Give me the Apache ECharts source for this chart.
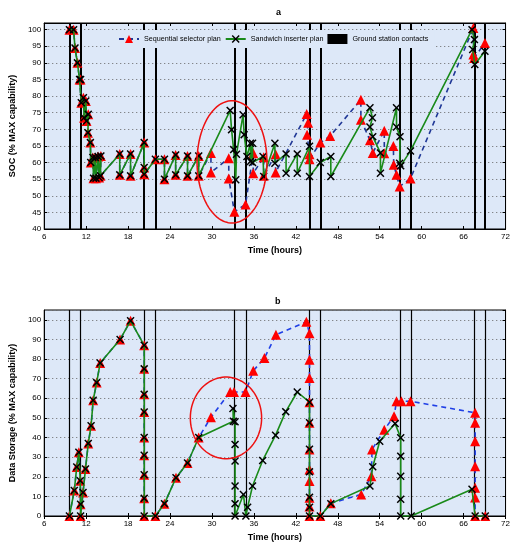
<!DOCTYPE html>
<html>
<head>
<meta charset="utf-8">
<script src="https://cdn.jsdelivr.net/npm/echarts@6/dist/echarts.min.js"></script>
<style>
  html, body { margin: 0; padding: 0; background: #fff; }
  #main { width: 513px; height: 543px; }
</style>
</head>
<body>
<div id="main"></div>
<script>
// ground station contact times (hours)
const contactTimes = [9.6, 11.2, 20.3, 21.9, 33.25, 34.85, 43.95, 45.5, 56.9, 58.45, 67.55, 69.05];

// panel a: SOC, points where both plans agree
const socShared = [
  [9.6, 100], [10.2, 100], [10.4, 94.5], [10.75, 90], [11.05, 85], [11.2, 85], [11.3, 78],
  [11.6, 79.5], [11.7, 73.5], [11.95, 78.5], [12.05, 72.5], [12.3, 74.5], [12.25, 69],
  [12.6, 66], [12.65, 60], [12.95, 61.5], [13.05, 55.3], [13.3, 61.5], [13.4, 55.3],
  [13.7, 61.8], [13.85, 55.5], [14.1, 62], [14.05, 56], [16.8, 62.6], [16.8, 56.3],
  [18.35, 62.6], [18.35, 56], [20.3, 66], [20.3, 58.5], [20.3, 56.5], [21.9, 61],
  [23.2, 61], [23.2, 55], [24.8, 62.3], [24.8, 56.3], [26.5, 62], [26.5, 56], [28.1, 62], [28.1, 56]
];
const socSequential = [
  [29.85, 62.9], [29.85, 57], [32.4, 61.3], [32.4, 55.2], [33.2, 45.2], [34.8, 47.4],
  [35.9, 62.8], [35.9, 56.8], [37.4, 61.6], [37.4, 56], [39.1, 62.5], [39.1, 57],
  [43.55, 74.6], [43.75, 72], [43.6, 68.4], [43.95, 62.5], [43.95, 61], [45.5, 66], [46.9, 68],
  [51.3, 78.9], [51.3, 72.9], [52.6, 66.7], [53.0, 62.9], [54.65, 69.6], [54.65, 62.8],
  [55.95, 65], [56.0, 59.3], [56.4, 56.3], [56.85, 52.8], [58.4, 55.2],
  [67.4, 100.5], [67.4, 92.5], [67.5, 91.5], [69.05, 96]
];
const socSandwich = [
  [32.6, 75.7], [32.8, 69.9], [33.1, 63.9], [33.4, 54.8], [33.5, 62.5], [34.45, 74.4],
  [34.6, 68.4], [35.0, 61.8], [35.5, 65.8], [35.5, 60.3], [35.8, 65.8], [35.8, 60],
  [37.3, 61.8], [37.4, 55.8], [39.0, 65.8], [39.0, 59.8], [40.6, 62.6], [40.6, 56.8],
  [42.2, 62.6], [42.2, 56.8], [43.95, 64.9], [43.95, 55.8], [45.5, 60], [47.0, 61.8], [47.0, 55.8],
  [52.6, 76.5], [52.95, 73.5], [52.6, 70.7], [53.0, 67.8], [54.1, 62.9], [54.1, 56.8],
  [56.4, 76.5], [56.4, 70.7], [56.9, 67.8], [56.85, 59.8], [57.0, 59], [58.4, 63.5],
  [67.2, 100], [67.55, 97], [67.3, 94], [67.6, 89.5], [69.05, 93.5]
];

// panel b: data storage, points where both plans agree
const storeShared = [
  [9.6, 0], [10.3, 13], [10.65, 25], [10.95, 32.5], [11.15, 18], [11.2, 6], [11.2, 0],
  [11.55, 12], [11.9, 24], [12.3, 37], [12.7, 46], [13.0, 59], [13.5, 68], [14.0, 78],
  [16.85, 90], [18.35, 99.5], [20.3, 87], [20.3, 75], [20.3, 62], [20.3, 53], [20.3, 40],
  [20.3, 31], [20.3, 21], [20.3, 9], [20.3, 0], [21.9, 0], [23.2, 6.3], [24.85, 19.5],
  [26.5, 27], [28.1, 40]
];
const storeSequential = [
  [29.85, 50.3], [32.6, 63.2], [33.15, 63.2], [34.8, 63.2], [35.9, 74], [37.5, 80.5],
  [39.15, 92.4], [43.5, 99], [43.95, 93.2], [43.95, 79.7], [43.95, 70.4], [43.95, 58],
  [43.95, 47.5], [43.95, 33.9], [43.95, 23.7], [43.95, 17.8], [43.95, 9.3], [43.95, 4.8],
  [43.95, 0], [45.5, 0], [47.0, 6.5], [51.35, 11], [52.8, 20.3], [52.9, 33.9], [54.65, 44],
  [56.05, 50.8], [56.4, 58.5], [57.1, 58.5], [58.4, 58.5], [67.65, 52.6], [67.65, 47.5],
  [67.65, 38.1], [67.65, 25.4], [67.65, 14.4], [67.65, 9.4], [67.65, 0], [69.1, 0]
];
const storeSandwich = [
  [33.05, 48.3], [33.0, 54.8], [33.3, 48], [33.3, 36.5], [33.3, 28], [33.3, 15.3], [33.3, 6.3],
  [33.3, 0], [34.5, 11], [34.85, 0], [35.1, 4.5], [35.8, 15.3], [37.25, 28.3], [39.1, 41.2],
  [40.55, 53.2], [42.2, 63.2], [43.95, 58], [43.95, 47.5], [43.95, 34], [43.95, 22.5],
  [43.95, 9.5], [43.95, 4.5], [43.95, 0], [45.5, 0], [47.0, 6.3], [52.6, 15.3], [53.0, 25.1],
  [54.0, 38.1], [56.2, 47.1], [57.0, 39.9], [57.0, 30.5], [57.0, 20.3], [57.0, 8.5], [57.0, 0],
  [58.5, 0], [67.2, 13.6], [67.65, 0], [69.1, 0]
];

// highlighted regions: [centre t, centre value, half width (h), half height]
const highlightA = [32.86, 60.2, 5.0, 18.4];
const highlightB = [32.0, 50, 5.1, 20.8];

const chart = echarts.init(document.getElementById('main'));

const narrow = '"Liberation Sans Narrow", "Liberation Sans", Arial, sans-serif';
const bgBlue = '#dde8f8';
const xMark = 'path://M0,1.3 L1.3,0 L5,3.7 L8.7,0 L10,1.3 L6.3,5 L10,8.7 L8.7,10 L5,6.3 L1.3,10 L0,8.7 L3.7,5 Z';

function xAxes(gi) {
  const base = {
    type: 'value', gridIndex: gi, min: 6, max: 72, interval: 6,
    axisLine: { show: true, lineStyle: { color: '#000', width: 1 } },
    axisTick: { show: true, inside: true, length: 3, lineStyle: { color: '#000' } },
    splitLine: { show: false }
  };
  return [
    Object.assign({}, base, {
      position: 'bottom',
      axisLabel: { color: '#000', fontSize: 8, fontFamily: narrow, margin: 4 },
      name: 'Time (hours)', nameLocation: 'middle', nameGap: 17,
      nameTextStyle: { color: '#000', fontSize: 9, fontWeight: 'bold', fontFamily: narrow }
    }),
    Object.assign({}, base, { position: 'top', axisLabel: { show: false } })
  ];
}

function yAxes(gi, min, max, interval, name) {
  const base = {
    type: 'value', gridIndex: gi, min: min, max: max, interval: interval,
    axisLine: { show: true, lineStyle: { color: '#000', width: 1 } },
    axisTick: { show: true, inside: true, length: 3, lineStyle: { color: '#000' } }
  };
  return [
    Object.assign({}, base, {
      position: 'left',
      axisLabel: { color: '#000', fontSize: 8, fontFamily: narrow, margin: 3, showMaxLabel: false },
      splitLine: { show: true, lineStyle: { color: '#666', type: [1, 3], width: 1 } },
      name: name, nameLocation: 'middle', nameGap: 18,
      nameTextStyle: { color: '#000', fontSize: 9, fontWeight: 'bold', fontFamily: narrow }
    }),
    Object.assign({}, base, { position: 'right', axisLabel: { show: false }, splitLine: { show: false } })
  ];
}

function ellipse(params, api) {
  const c = api.coord([api.value(0), api.value(1)]);
  const s = api.size([api.value(2), api.value(3)]);
  const pts = [];
  for (let i = 0; i <= 90; i++) {
    const a = i / 90 * Math.PI * 2;
    pts.push([c[0] + s[0] * Math.cos(a), c[1] + s[1] * Math.sin(a)]);
  }
  return { type: 'polyline', shape: { points: pts }, style: { stroke: '#ee1111', lineWidth: 1.5, fill: null } };
}

function panelSeries(xi, yi, seqData, sandData, ring, seqColor, contactWidth) {
  return [
    {
      name: 'Ground station contacts', type: 'line', xAxisIndex: xi, yAxisIndex: yi,
      data: [], color: '#000', symbol: 'none',
      markLine: {
        silent: true, symbol: ['none', 'none'], label: { show: false }, z: 2,
        lineStyle: { color: '#000', width: contactWidth, type: 'solid' },
        data: contactTimes.map(t => ({ xAxis: t }))
      }
    },
    {
      name: 'Sequential selector plan', type: 'line', xAxisIndex: xi, yAxisIndex: yi,
      data: seqData, color: '#ff0000',
      lineStyle: { color: seqColor, width: 1.6, type: [5, 4] },
      symbol: 'triangle', symbolSize: 10, itemStyle: { color: '#ff0000' }, z: 3
    },
    {
      name: 'Sandwich inserter plan', type: 'line', xAxisIndex: xi, yAxisIndex: yi,
      data: sandData, color: '#000',
      lineStyle: { color: '#198a19', width: 1.6 },
      symbol: xMark, symbolSize: 8, itemStyle: { color: '#000' }, z: 4
    },
    {
      type: 'custom', xAxisIndex: xi, yAxisIndex: yi, renderItem: ellipse,
      data: [ring], z: 5, silent: true
    }
  ];
}

const option = {
  animation: false,
  backgroundColor: '#fff',
  title: [
    { text: 'a', left: 271, top: 3, textStyle: { fontSize: 9, fontWeight: 'bold', fontFamily: narrow, color: '#000' } },
    { text: 'b', left: 270, top: 292, textStyle: { fontSize: 9, fontWeight: 'bold', fontFamily: narrow, color: '#000' } }
  ],
  grid: [
    { left: 42, right: 2, top: 23, bottom: 314, backgroundColor: bgBlue, show: true, borderColor: '#000', borderWidth: 1 },
    { left: 42, right: 2, top: 310, bottom: 26, backgroundColor: bgBlue, show: true, borderColor: '#000', borderWidth: 1 }
  ],
  legend: {
    left: 112, top: 30, padding: [4, 6], itemGap: 4, itemWidth: 20, itemHeight: 10, z: 20,
    backgroundColor: bgBlue,
    textStyle: { fontSize: 7.2, fontFamily: narrow, color: '#000' },
    data: [
      { name: 'Sequential selector plan' },
      { name: 'Sandwich inserter plan' },
      { name: 'Ground station contacts', icon: 'rect' }
    ]
  },
  xAxis: xAxes(0).concat(xAxes(1)),
  yAxis: yAxes(0, 40, 102, 5, 'SOC (% MAX capability)')
    .concat(yAxes(1, 0, 105, 10, 'Data Storage (% MAX capability)')),
  series: panelSeries(0, 0, socShared.concat(socSequential), socShared.concat(socSandwich), highlightA, '#1f3796', 2)
    .concat(panelSeries(2, 2, storeShared.concat(storeSequential), storeShared.concat(storeSandwich), highlightB, '#1f3fe6', 1.2))
};

chart.setOption(option);
</script>
</body>
</html>
